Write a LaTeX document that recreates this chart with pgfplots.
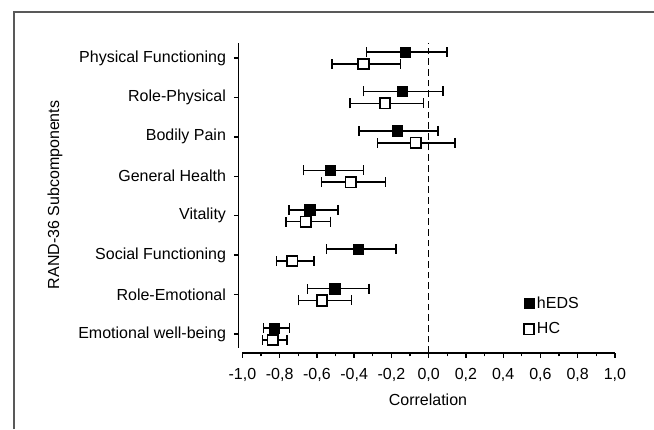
\documentclass[border=0pt]{standalone}
\usepackage{pgfplots}
\pgfplotsset{compat=1.18}
\usepackage{pgfplotstable}
\usepackage{fontspec}
\setmainfont{Liberation Sans}

\pgfplotstableread{
y     x       lo      hi
8.15  -0.125  -0.334  0.099
7.15  -0.143  -0.349  0.077
6.15  -0.170  -0.374  0.050
5.15  -0.529  -0.671  -0.349
4.15  -0.639  -0.751  -0.488
3.15  -0.377  -0.549  -0.175
2.15  -0.504  -0.650  -0.320
1.15  -0.828  -0.887  -0.746
}\hEDS

\pgfplotstableread{
y     x       lo      hi
7.85  -0.350  -0.520  -0.152
6.85  -0.234  -0.422  -0.028
5.85  -0.070  -0.275  0.140
4.85  -0.419  -0.576  -0.231
3.85  -0.660  -0.766  -0.528
2.85  -0.732  -0.817  -0.617
1.85  -0.572  -0.698  -0.415
0.85  -0.837  -0.891  -0.760
}\HC

\begin{document}
\begin{tikzpicture}
\useasboundingbox (0,0) rectangle (490.5pt,321.75pt);
\draw[black!65, line width=1pt] (10.5pt,0pt) -- (10.5pt,312.75pt) -- (490.5pt,312.75pt);
\begin{axis}[
  at={(179pt,57pt)}, anchor=south west,
  scale only axis, width=282.2pt, height=232.5pt,
  xmin=-1.02, xmax=1.0, ymin=0.518, ymax=8.38,
  axis line style={draw=none},
  font=\fontsize{12}{14}\selectfont,
  xtick={-1,-0.8,-0.6,-0.4,-0.2,0,0.2,0.4,0.6,0.8,1},
  minor xtick={-0.9,-0.7,-0.5,-0.3,-0.1,0.1,0.3,0.5,0.7,0.9},
  xtick pos=bottom, ytick pos=left,
  tick align=outside,
  major tick length=3.5pt, minor tick length=2.5pt,
  tick style={black, line width=1pt},
  /pgf/number format/assume math mode=true,
  xticklabel style={/pgf/number format/.cd, fixed, fixed zerofill, precision=1, use comma, /tikz/.cd, yshift=-4.5pt},
  ytick={1,2,3,4,5,6,7,8},
  yticklabels={Emotional well-being, Role-Emotional, Social Functioning, Vitality, General Health, Bodily Pain, Role-Physical, Physical Functioning},
  yticklabel style={xshift=-2.5pt},
  xlabel={Correlation},
  ylabel={RAND-36 Subcomponents},
  xlabel style={at={(axis description cs:0.503,-0.152)}, anchor=center},
  ylabel style={at={(axis description cs:-0.488,0.51)}, anchor=center},
  clip=false,
  legend style={draw=none, fill=none, at={(axis cs:0.51,1.45)}, anchor=west, row sep=5.5pt, inner sep=0pt, font=\fontsize{12}{14}\selectfont},
  legend cell align=left,
  legend image code/.code={\draw[#1] plot coordinates {(0.12cm,0cm)};},
]
\draw[black, line width=1pt] (axis cs:-1.02,0.645) -- (axis cs:-1.02,8.38);
\draw[black, line width=1pt] (axis cs:-1.0,0.518) -- (axis cs:1.0,0.518);
\draw[black, line width=0.9pt, dash pattern=on 5pt off 3pt] (axis cs:0,0.518) -- (axis cs:0,8.38);

\addplot[only marks, mark=square*, mark size=3.9pt, black, fill=black,
  error bars/.cd, x dir=both, x explicit,
  error bar style={line width=1.15pt, black},
  error mark options={line width=1.15pt, mark size=3.75pt, rotate=90}]
  table[x=x, y=y, x error plus expr={\thisrow{hi}-\thisrow{x}}, x error minus expr={\thisrow{x}-\thisrow{lo}}] {\hEDS};
\addplot[only marks, mark=square*, mark size=3.9pt, black, fill=white, mark options={line width=1.3pt},
  error bars/.cd, x dir=both, x explicit,
  error bar style={line width=1.15pt, black},
  error mark options={line width=1.15pt, mark size=3.75pt, rotate=90}]
  table[x=x, y=y, x error plus expr={\thisrow{hi}-\thisrow{x}}, x error minus expr={\thisrow{x}-\thisrow{lo}}] {\HC};
\addlegendentry{hEDS}
\addlegendentry{HC}
\end{axis}
\end{tikzpicture}
\end{document}
